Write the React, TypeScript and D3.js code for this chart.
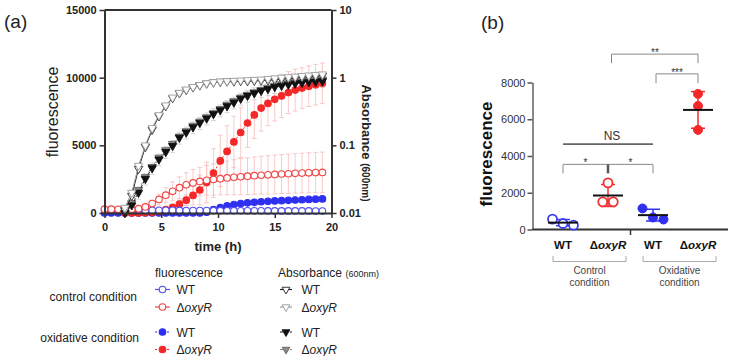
import React, { useRef, useEffect } from 'react'
import * as d3 from 'd3'

const FONT = "'Liberation Sans', Arial, Helvetica, sans-serif"

// sampling times (h)
const times = [0, 0.6, 1.2, 1.8, 2.4, 3, 3.6, 4.2, 4.8, 5.4, 6, 6.6, 7.2, 7.8, 8.4, 9, 9.6, 10.2, 10.8, 11.4, 12, 12.6, 13.2, 13.8, 14.4, 15, 15.6, 16.2, 16.8, 17.4, 18, 18.6, 19.2]

// fluorescence, control condition
const fluoCtrlWt = [250, 245, 240, 230, 220, 215, 210, 205, 200, 200, 195, 190, 185, 185, 180, 180, 175, 170, 170, 165, 165, 160, 160, 160, 155, 155, 155, 150, 150, 150, 150, 145, 145]
const fluoCtrlMut = [280, 280, 275, 265, 270, 320, 450, 700, 1000, 1320, 1600, 1870, 2080, 2220, 2330, 2420, 2480, 2540, 2590, 2640, 2680, 2720, 2760, 2790, 2820, 2850, 2880, 2900, 2930, 2950, 2970, 2990, 3000]
const fluoCtrlMutSd = [0, 0, 0, 0, 0, 50, 100, 250, 400, 550, 700, 800, 900, 1000, 1050, 1100, 1150, 1200, 1250, 1300, 1330, 1360, 1380, 1400, 1420, 1430, 1440, 1450, 1460, 1470, 1480, 1490, 1500]

// fluorescence, oxidative condition
const fluoOxWt = [0, 0, 0, 0, 0, 0, 0, 0, 0, 0, 0, 0, 0, 0, 0, 60, 250, 400, 520, 620, 690, 750, 790, 830, 860, 890, 910, 940, 960, 980, 1000, 1020, 1040]
const fluoOxMut = [null, null, null, 0, 0, 0, 20, 50, 120, 250, 420, 650, 950, 1300, 1700, 2250, 2950, 3850, 4550, 5250, 5950, 6650, 7250, 7750, 8100, 8400, 8650, 8900, 9080, 9230, 9370, 9480, 9580]
const fluoOxMutSd = [null, null, null, 0, 0, 0, 10, 30, 60, 120, 200, 300, 400, 700, 1100, 1500, 1800, 1900, 1900, 1900, 1850, 1800, 1750, 1700, 1650, 1600, 1600, 1550, 1550, 1500, 1500, 1500, 1500]

// absorbance at 600nm
const absCtrlWt = [null, null, null, 0.011, 0.018, 0.045, 0.095, 0.17, 0.27, 0.38, 0.5, 0.59, 0.66, 0.72, 0.77, 0.82, 0.85, 0.87, 0.88, 0.88, 0.89, 0.89, 0.9, 0.91, 0.92, 0.93, 0.95, 0.97, 0.99, 1.01, 1.03, 1.05, 1.07]
const absCtrlMut = [null, null, null, 0.012, 0.02, 0.05, 0.1, 0.18, 0.28, 0.39, 0.51, 0.6, 0.67, 0.73, 0.78, 0.83, 0.86, 0.88, 0.89, 0.9, 0.91, 0.92, 0.93, 0.94, 0.96, 0.98, 1.0, 1.02, 1.04, 1.06, 1.08, 1.1, 1.12]
const absOxWt = [null, null, null, 0.01, 0.013, 0.02, 0.032, 0.046, 0.062, 0.08, 0.098, 0.13, 0.155, 0.185, 0.215, 0.25, 0.29, 0.33, 0.38, 0.43, 0.49, 0.54, 0.59, 0.64, 0.68, 0.73, 0.76, 0.79, 0.82, 0.84, 0.86, 0.87, 0.89]
const absOxWtSd = [null, null, null, 0, 0.002, 0.004, 0.006, 0.009, 0.012, 0.016, 0.02, 0.026, 0.031, 0.037, 0.043, 0.05, 0.058, 0.066, 0.076, 0.086, 0.098, 0.108, 0.118, 0.128, 0.136, 0.146, 0.152, 0.158, 0.164, 0.168, 0.172, 0.174, 0.178]
const absOxMut = [null, null, null, 0.011, 0.014, 0.022, 0.034, 0.048, 0.066, 0.085, 0.105, 0.135, 0.162, 0.195, 0.225, 0.26, 0.3, 0.345, 0.4, 0.45, 0.51, 0.56, 0.61, 0.66, 0.71, 0.76, 0.8, 0.83, 0.86, 0.88, 0.9, 0.92, 0.94]

// end-point fluorescence, three replicates per strain/condition
const genotypes = ['WT', 'ΔoxyR', 'WT', 'ΔoxyR']
const endCtrlWt = [562, 327, 234]
const endCtrlMut = [2540, 1505, 1505]
const endOxWt = [1145, 654, 545]
const endOxMut = [7380, 6725, 5420]

// tick values
const timeTicks = [0, 5, 10, 15, 20]
const fluoTicks = [0, 5000, 10000, 15000]
const absTicks = [0.01, 0.1, 1, 10]
const endTicks = [0, 2000, 4000, 6000, 8000]

const BLUE = '#2f2ff0'
const RED = '#f42828'
const PINK = '#f6bcbc'

const sFluoCtrlWt = { values: fluoCtrlWt, abs: false, shape: 'circle', fill: '#fff', stroke: '#4f4fee', line: '#4f4fee', dash: null }
const sFluoCtrlMut = { values: fluoCtrlMut, abs: false, shape: 'circle', fill: '#fff', stroke: '#f04646', line: '#f04646', dash: null }
const sFluoOxWt = { values: fluoOxWt, abs: false, shape: 'circle', fill: BLUE, stroke: BLUE, line: BLUE, dash: '2,2' }
const sFluoOxMut = { values: fluoOxMut, abs: false, shape: 'circle', fill: RED, stroke: RED, line: RED, dash: '2,2' }
const sAbsCtrlWt = { values: absCtrlWt, abs: true, shape: 'tri', fill: '#fff', stroke: '#222', line: '#222', dash: null }
const sAbsCtrlMut = { values: absCtrlMut, abs: true, shape: 'tri', fill: '#fff', stroke: '#9a9a9a', line: '#9a9a9a', dash: null }
const sAbsOxWt = { values: absOxWt, abs: true, shape: 'tri', fill: '#111', stroke: '#111', line: '#111', dash: '3,2' }
const sAbsOxMut = { values: absOxMut, abs: true, shape: 'tri', fill: '#8a8a8a', stroke: '#666', line: '#8a8a8a', dash: '3,2' }

// draw order: filled circles under open circles, growth curves on top
const drawOrder = [sFluoOxWt, sFluoOxMut, sFluoCtrlWt, sFluoCtrlMut, sAbsOxMut, sAbsOxWt, sAbsCtrlWt, sAbsCtrlMut]

function drawMarkers(parent, pts, s, r = 3.3, triSize = 30) {
  if (s.shape === 'circle') {
    parent.append('g').selectAll('circle').data(pts).join('circle')
      .attr('cx', (d) => d[0]).attr('cy', (d) => d[1]).attr('r', r)
      .attr('fill', s.fill).attr('stroke', s.stroke).attr('stroke-width', 1.1)
  } else {
    const tri = d3.symbol().type(d3.symbolTriangle).size(triSize)()
    parent.append('g').selectAll('path').data(pts).join('path')
      .attr('d', tri)
      .attr('transform', (d) => `translate(${d[0]},${d[1]}) rotate(180)`)
      .attr('fill', s.fill).attr('stroke', s.stroke).attr('stroke-width', 0.9)
  }
}

function genotypeText(sel, name) {
  if (name.startsWith('Δ')) {
    sel.append('tspan').text('Δ')
    sel.append('tspan').attr('font-style', 'italic').text(name.slice(1))
  } else {
    sel.text(name)
  }
}

function styleAxis(a, weight = 'bold', color = '#333', width = 2) {
  a.select('.domain').attr('stroke', color).attr('stroke-width', width)
  a.selectAll('.tick line').attr('stroke', color).attr('stroke-width', 1.5)
  a.selectAll('.tick text')
    .attr('font-family', FONT).attr('font-size', 11)
    .attr('font-weight', weight).attr('fill', '#222')
}

function drawCurves(svg) {
  const x = d3.scaleLinear().domain([0, 20]).range([104.5, 331.5])
  const yF = d3.scaleLinear().domain([0, 15000]).range([213, 10])
  const yA = d3.scaleLog().domain([0.01, 10]).range([213, 10])

  const g = svg.append('g')

  // error bars
  const bars = [
    { values: fluoCtrlMut, sd: fluoCtrlMutSd, y: yF, color: PINK },
    { values: fluoOxMut, sd: fluoOxMutSd, y: yF, color: PINK },
    { values: absOxWt, sd: absOxWtSd, y: yA, color: '#cdcdcd' },
  ]
  bars.forEach((b) => {
    const rows = times.map((t, i) => ({ t, v: b.values[i], sd: b.sd[i] }))
      .filter((d) => d.v != null && d.sd > 0)
    const lowest = b.y.domain()[0]
    g.append('g').attr('stroke', b.color).attr('stroke-width', 0.8).attr('fill', 'none')
      .selectAll('path').data(rows).join('path')
      .attr('d', (d) => {
        const cx = x(d.t)
        const hi = b.y(d.v + d.sd)
        const lo = b.y(Math.max(d.v - d.sd, lowest))
        return `M${cx},${hi}V${lo}M${cx - 2.5},${hi}H${cx + 2.5}M${cx - 2.5},${lo}H${cx + 2.5}`
      })
  })

  // lines and markers
  drawOrder.forEach((s) => {
    const y = s.abs ? yA : yF
    const rows = times.map((t, i) => ({ t, v: s.values[i] }))
    const line = d3.line().defined((d) => d.v != null).x((d) => x(d.t)).y((d) => y(d.v))
    g.append('path').datum(rows).attr('d', line)
      .attr('fill', 'none').attr('stroke', s.line).attr('stroke-width', 1)
      .attr('stroke-dasharray', s.dash)
    drawMarkers(g, rows.filter((d) => d.v != null).map((d) => [x(d.t), y(d.v)]), s)
  })

  // frame and axes
  g.append('line').attr('x1', 104.5).attr('x2', 331.5).attr('y1', 10).attr('y2', 10)
    .attr('stroke', '#333').attr('stroke-width', 2)
  g.append('g').attr('transform', 'translate(0,213)')
    .call(d3.axisBottom(x).tickValues(timeTicks).tickSize(5).tickSizeOuter(0).tickPadding(5))
    .call(styleAxis)
  g.append('g').attr('transform', 'translate(104.5,0)')
    .call(d3.axisLeft(yF).tickValues(fluoTicks).tickFormat((d) => String(d)).tickSize(5).tickSizeOuter(0).tickPadding(3))
    .call(styleAxis)
  g.append('g').attr('transform', 'translate(331.5,0)')
    .call(d3.axisRight(yA).tickValues(absTicks).tickFormat((d) => String(d)).tickSize(5).tickSizeOuter(0).tickPadding(3))
    .call(styleAxis)

  // titles
  const t = svg.append('g').attr('font-family', FONT).attr('fill', '#222')
  t.append('text').attr('x', 4).attr('y', 28).attr('font-size', 19).text('(a)')
  t.append('text').attr('transform', 'translate(58,112) rotate(-90)')
    .attr('text-anchor', 'middle').attr('font-size', 16).text('fluorescence')
  const absLabel = t.append('text').attr('transform', 'translate(362,143) rotate(90)')
    .attr('text-anchor', 'middle').attr('font-size', 13).attr('font-weight', 'bold')
  absLabel.append('tspan').text('Absorbance ')
  absLabel.append('tspan').attr('font-size', 10).text('(600nm)')
  t.append('text').attr('x', 218).attr('y', 251).attr('text-anchor', 'middle')
    .attr('font-size', 13).attr('font-weight', 'bold').text('time (h)')

  // legend
  const leg = svg.append('g').attr('font-family', FONT).attr('fill', '#222').attr('font-size', 12)
  leg.append('text').attr('x', 155).attr('y', 277).text('fluorescence')
  const ah = leg.append('text').attr('x', 278).attr('y', 277)
  ah.append('tspan').text('Absorbance ')
  ah.append('tspan').attr('font-size', 9).text('(600nm)')
  leg.append('text').attr('x', 137).attr('y', 301).attr('text-anchor', 'end').text('control condition')
  leg.append('text').attr('x', 139).attr('y', 342).attr('text-anchor', 'end').text('oxidative condition')

  const rowY = [289.5, 307, 332, 349.5]
  const columns = [
    { x0: 155, x1: 170, text: 176.5, items: [sFluoCtrlWt, sFluoCtrlMut, sFluoOxWt, sFluoOxMut] },
    { x0: 280, x1: 292, text: 301.5, items: [sAbsCtrlWt, sAbsCtrlMut, sAbsOxWt, sAbsOxMut] },
  ]
  columns.forEach((c) => {
    c.items.forEach((s, i) => {
      const cy = rowY[i]
      leg.append('line').attr('x1', c.x0).attr('x2', c.x1).attr('y1', cy).attr('y2', cy)
        .attr('stroke', s.line).attr('stroke-width', 1.2).attr('stroke-dasharray', s.dash)
      drawMarkers(leg, [[(c.x0 + c.x1) / 2, cy]], s, 3.3, 26)
      leg.append('text').attr('x', c.text).attr('y', cy + 4.5).call(genotypeText, genotypes[i])
    })
  })
}

function drawEndPoints(svg) {
  const keys = ['ctrlWt', 'ctrlMut', 'oxWt', 'oxMut']
  const groups = [
    { key: 'ctrlWt', values: endCtrlWt, color: '#3d3df0', open: true },
    { key: 'ctrlMut', values: endCtrlMut, color: '#f03030', open: true },
    { key: 'oxWt', values: endOxWt, color: BLUE, open: false },
    { key: 'oxMut', values: endOxMut, color: RED, open: false },
  ]
  const x = d3.scalePoint().domain(keys).range([563, 698])
  const y = d3.scaleLinear().domain([0, 8000]).range([229.5, 82.5])

  const g = svg.append('g').attr('font-family', FONT)

  g.append('text').attr('x', 481).attr('y', 29).attr('font-size', 19).attr('fill', '#222').text('(b)')
  g.append('text').attr('transform', 'translate(492,154) rotate(-90)')
    .attr('text-anchor', 'middle').attr('font-size', 17).attr('font-weight', 'bold')
    .attr('fill', '#111').text('fluorescence')

  g.append('g').attr('transform', 'translate(532.5,0)')
    .call(d3.axisLeft(y).tickValues(endTicks).tickFormat((d) => String(d)).tickSize(5).tickSizeOuter(0).tickPadding(2))
    .call((a) => styleAxis(a, 'normal', '#555', 1.4))
  g.selectAll('.tick text').attr('fill', '#333')
  g.append('line').attr('x1', 532.5).attr('x2', 728).attr('y1', 229.5).attr('y2', 229.5)
    .attr('stroke', '#333').attr('stroke-width', 2)
  const mid = (x('ctrlMut') + x('oxWt')) / 2
  g.append('line').attr('x1', mid).attr('x2', mid).attr('y1', 229.5).attr('y2', 235)
    .attr('stroke', '#333').attr('stroke-width', 1.5)

  // strain labels under the axis
  groups.forEach((grp, i) => {
    g.append('text').attr('x', x(grp.key)).attr('y', 249).attr('text-anchor', 'middle')
      .attr('font-size', 11.5).attr('font-weight', 'bold').attr('fill', '#111')
      .call(genotypeText, genotypes[i])
  })

  // condition brackets
  const conds = [
    { from: 'ctrlWt', to: 'ctrlMut', lines: ['Control', 'condition'] },
    { from: 'oxWt', to: 'oxMut', lines: ['Oxidative', 'condition'] },
  ]
  conds.forEach((c) => {
    const x0 = x(c.from) - 10
    const x1 = x(c.to) + 18
    g.append('path').attr('d', `M${x0},256V261.5H${x1}V256`)
      .attr('fill', 'none').attr('stroke', '#aaa').attr('stroke-width', 1)
    c.lines.forEach((s, k) => {
      g.append('text').attr('x', (x0 + x1) / 2).attr('y', 274 + k * 12)
        .attr('text-anchor', 'middle').attr('font-size', 10).attr('fill', '#444').text(s)
    })
  })

  // replicate points, spread sideways where they would overlap
  const r = 4.5
  const spread = (vals) => {
    const order = d3.range(vals.length).sort((a, b) => vals[b] - vals[a])
    const clusters = []
    order.forEach((i) => {
      const last = clusters[clusters.length - 1]
      if (last && Math.abs(y(vals[last[last.length - 1]]) - y(vals[i])) < 2 * r + 1) last.push(i)
      else clusters.push([i])
    })
    const off = []
    clusters.forEach((c) => c.forEach((i, k) => { off[i] = (k - (c.length - 1) / 2) * 10.5 }))
    return off
  }

  groups.forEach((grp) => {
    const cx = x(grp.key)
    const mean = d3.mean(grp.values)
    const sd = d3.deviation(grp.values)
    const eg = g.append('g').attr('stroke', grp.color).attr('stroke-width', 1.5)
    eg.append('line').attr('x1', cx).attr('x2', cx).attr('y1', y(mean + sd)).attr('y2', y(mean - sd))
    eg.append('line').attr('x1', cx - 7).attr('x2', cx + 7).attr('y1', y(mean + sd)).attr('y2', y(mean + sd))
    eg.append('line').attr('x1', cx - 7).attr('x2', cx + 7).attr('y1', y(mean - sd)).attr('y2', y(mean - sd))

    const off = spread(grp.values)
    g.append('g').selectAll('circle').data(grp.values).join('circle')
      .attr('cx', (d, i) => cx + off[i]).attr('cy', (d) => y(d)).attr('r', r)
      .attr('fill', grp.open ? '#fff' : grp.color)
      .attr('stroke', grp.color).attr('stroke-width', grp.open ? 1.8 : 1)

    g.append('line').attr('x1', cx - 15).attr('x2', cx + 15).attr('y1', y(mean)).attr('y2', y(mean))
      .attr('stroke', '#111').attr('stroke-width', 2)
  })

  // significance
  const ns = y(4650)
  g.append('line').attr('x1', x('ctrlWt')).attr('x2', x('oxWt')).attr('y1', ns).attr('y2', ns)
    .attr('stroke', '#666').attr('stroke-width', 1.8)
  g.append('text').attr('x', 612).attr('y', ns - 4.5).attr('text-anchor', 'middle')
    .attr('font-size', 12).attr('fill', '#333').text('NS')

  const bracket = (x0, x1, top, drop) => {
    g.append('path').attr('d', `M${x0},${y(drop)}V${y(top)}H${x1}V${y(drop)}`)
      .attr('fill', 'none').attr('stroke', '#888').attr('stroke-width', 1)
  }
  const stars = (cx, top, label) => {
    g.append('text').attr('x', cx).attr('y', y(top) + 2).attr('text-anchor', 'middle')
      .attr('font-size', 10).attr('fill', '#333').text(label)
  }
  bracket(x('ctrlWt'), x('oxWt'), 3545, 3055)
  g.append('line').attr('x1', x('ctrlMut')).attr('x2', x('ctrlMut')).attr('y1', y(3545)).attr('y2', y(3055))
    .attr('stroke', '#555').attr('stroke-width', 2.5)
  stars((x('ctrlWt') + x('ctrlMut')) / 2, 3545, '*')
  stars((x('ctrlMut') + x('oxWt')) / 2, 3545, '*')
  bracket(x('ctrlMut') + 3.5, x('oxMut'), 9545, 9055)
  stars((x('ctrlMut') + x('oxMut')) / 2 + 2, 9545, '**')
  bracket(x('oxWt') + 3, x('oxMut'), 8470, 7960)
  stars((x('oxWt') + x('oxMut')) / 2 + 1.5, 8470, '***')
}

export default function App() {
  const chart = useRef(null)

  useEffect(() => {
    const svg = d3.select(chart.current)
    svg.selectAll('*').remove()
    drawCurves(svg)
    drawEndPoints(svg)
  }, [])

  return (
    <svg
      ref={chart}
      width={729}
      height={356}
      style={{ position: 'absolute', left: 0, top: 0, background: '#fff' }}
    ></svg>
  )
}
